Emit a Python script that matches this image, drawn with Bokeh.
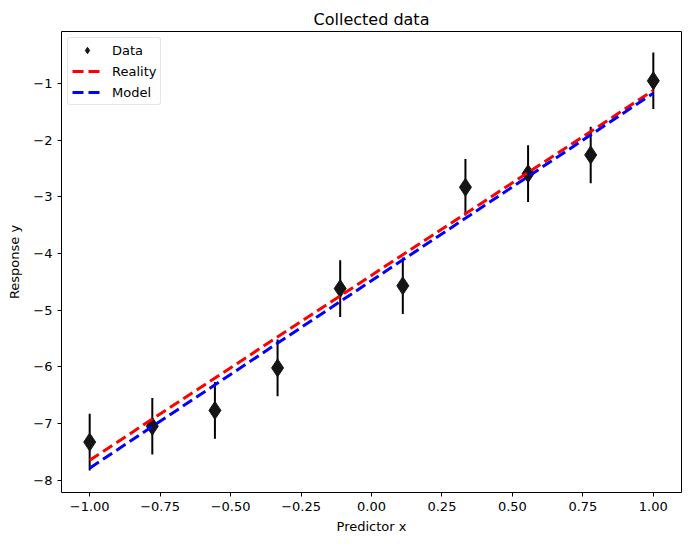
from bokeh.plotting import figure
from bokeh.models import ColumnDataSource, FixedTicker, Legend, LegendItem
from bokeh.embed import file_html
from bokeh.resources import INLINE

# Observations with symmetric measurement errors
x_data = [-1.0, -0.7778, -0.5556, -0.3333, -0.1111, 0.1111, 0.3333, 0.5556, 0.7778, 1.0]
y_data = [-7.33, -7.05, -6.77, -6.02, -4.62, -4.57, -2.83, -2.59, -2.26, -0.95]
y_err = [0.5, 0.5, 0.5, 0.5, 0.5, 0.5, 0.5, 0.5, 0.5, 0.5]

# True relationship and fitted model, evaluated at the ends of the range
x_line = [-1.0, 1.0]
y_reality = [-7.65, -1.12]
y_model = [-7.79, -1.17]

x_ticks = [-1.0, -0.75, -0.5, -0.25, 0.0, 0.25, 0.5, 0.75, 1.0]
x_tick_labels = ["\u22121.00", "\u22120.75", "\u22120.50", "\u22120.25", "0.00",
                 "0.25", "0.50", "0.75", "1.00"]
y_ticks = [-1, -2, -3, -4, -5, -6, -7, -8]
y_tick_labels = ["\u22121", "\u22122", "\u22123", "\u22124", "\u22125", "\u22126", "\u22127", "\u22128"]

FONT = "DejaVu Sans"

p = figure(width=690, height=546, output_backend="svg", toolbar_location=None,
           x_range=(-1.1, 1.1), y_range=(-8.22, -0.08),
           title="Collected data",
           min_border_left=61, min_border_right=9, min_border_top=31, min_border_bottom=54)

p.title.align = "center"
p.title.text_font = FONT
p.title.text_font_size = "16px"
p.title.text_font_style = "normal"
p.title.text_color = "black"
p.title.standoff = 6

p.background_fill_color = "white"
p.border_fill_color = "white"
p.outline_line_color = "black"
p.outline_line_width = 1
p.xgrid.visible = False
p.ygrid.visible = False

for ax in (p.xaxis[0], p.yaxis[0]):
    ax.axis_line_color = None
    ax.major_tick_in = 0
    ax.major_tick_out = 4
    ax.major_tick_line_color = "black"
    ax.minor_tick_line_color = None
    ax.major_label_text_font = FONT
    ax.major_label_text_font_size = "13px"
    ax.major_label_text_color = "black"
    ax.axis_label_text_font = FONT
    ax.axis_label_text_font_size = "13px"
    ax.axis_label_text_font_style = "normal"
    ax.axis_label_text_color = "black"

p.xaxis.ticker = FixedTicker(ticks=x_ticks)
p.xaxis.major_label_overrides = dict(zip(x_ticks, x_tick_labels))
p.yaxis.ticker = FixedTicker(ticks=y_ticks)
p.yaxis.major_label_overrides = dict(zip(y_ticks, y_tick_labels))
p.xaxis.axis_label = "Predictor x"
p.yaxis.axis_label = "Response y"
p.yaxis.axis_label_standoff = 8

src = ColumnDataSource(dict(
    x=x_data, y=y_data,
    lo=[y - e for y, e in zip(y_data, y_err)],
    hi=[y + e for y, e in zip(y_data, y_err)],
))

# Error bars and markers
p.segment(x0="x", y0="lo", x1="x", y1="hi", source=src, line_color="black", line_width=2)
data_r = p.scatter(x="x", y="y", source=src, marker="diamond", size=18,
                   fill_color="#151515", line_color="#151515", line_width=1)

# Lines
reality_r = p.line(x_line, y_reality, line_color="red", line_width=3, line_dash="11 5")
model_r = p.line(x_line, y_model, line_color="blue", line_width=3, line_dash="11 5")

legend = Legend(items=[
    LegendItem(label="Data", renderers=[data_r]),
    LegendItem(label="Reality", renderers=[reality_r]),
    LegendItem(label="Model", renderers=[model_r]),
], location="top_left")
legend.margin = 6
legend.padding = 4
legend.spacing = 5
legend.glyph_width = 30
legend.glyph_height = 16
legend.label_height = 16
legend.label_text_font = FONT
legend.label_text_font_size = "13px"
legend.label_text_color = "black"
legend.label_standoff = 10
legend.border_line_color = "#cccccc"
legend.border_line_width = 1
legend.border_radius = 3
legend.background_fill_alpha = 0.8
p.add_layout(legend)

open("out.html", "w").write(file_html(p, INLINE))
